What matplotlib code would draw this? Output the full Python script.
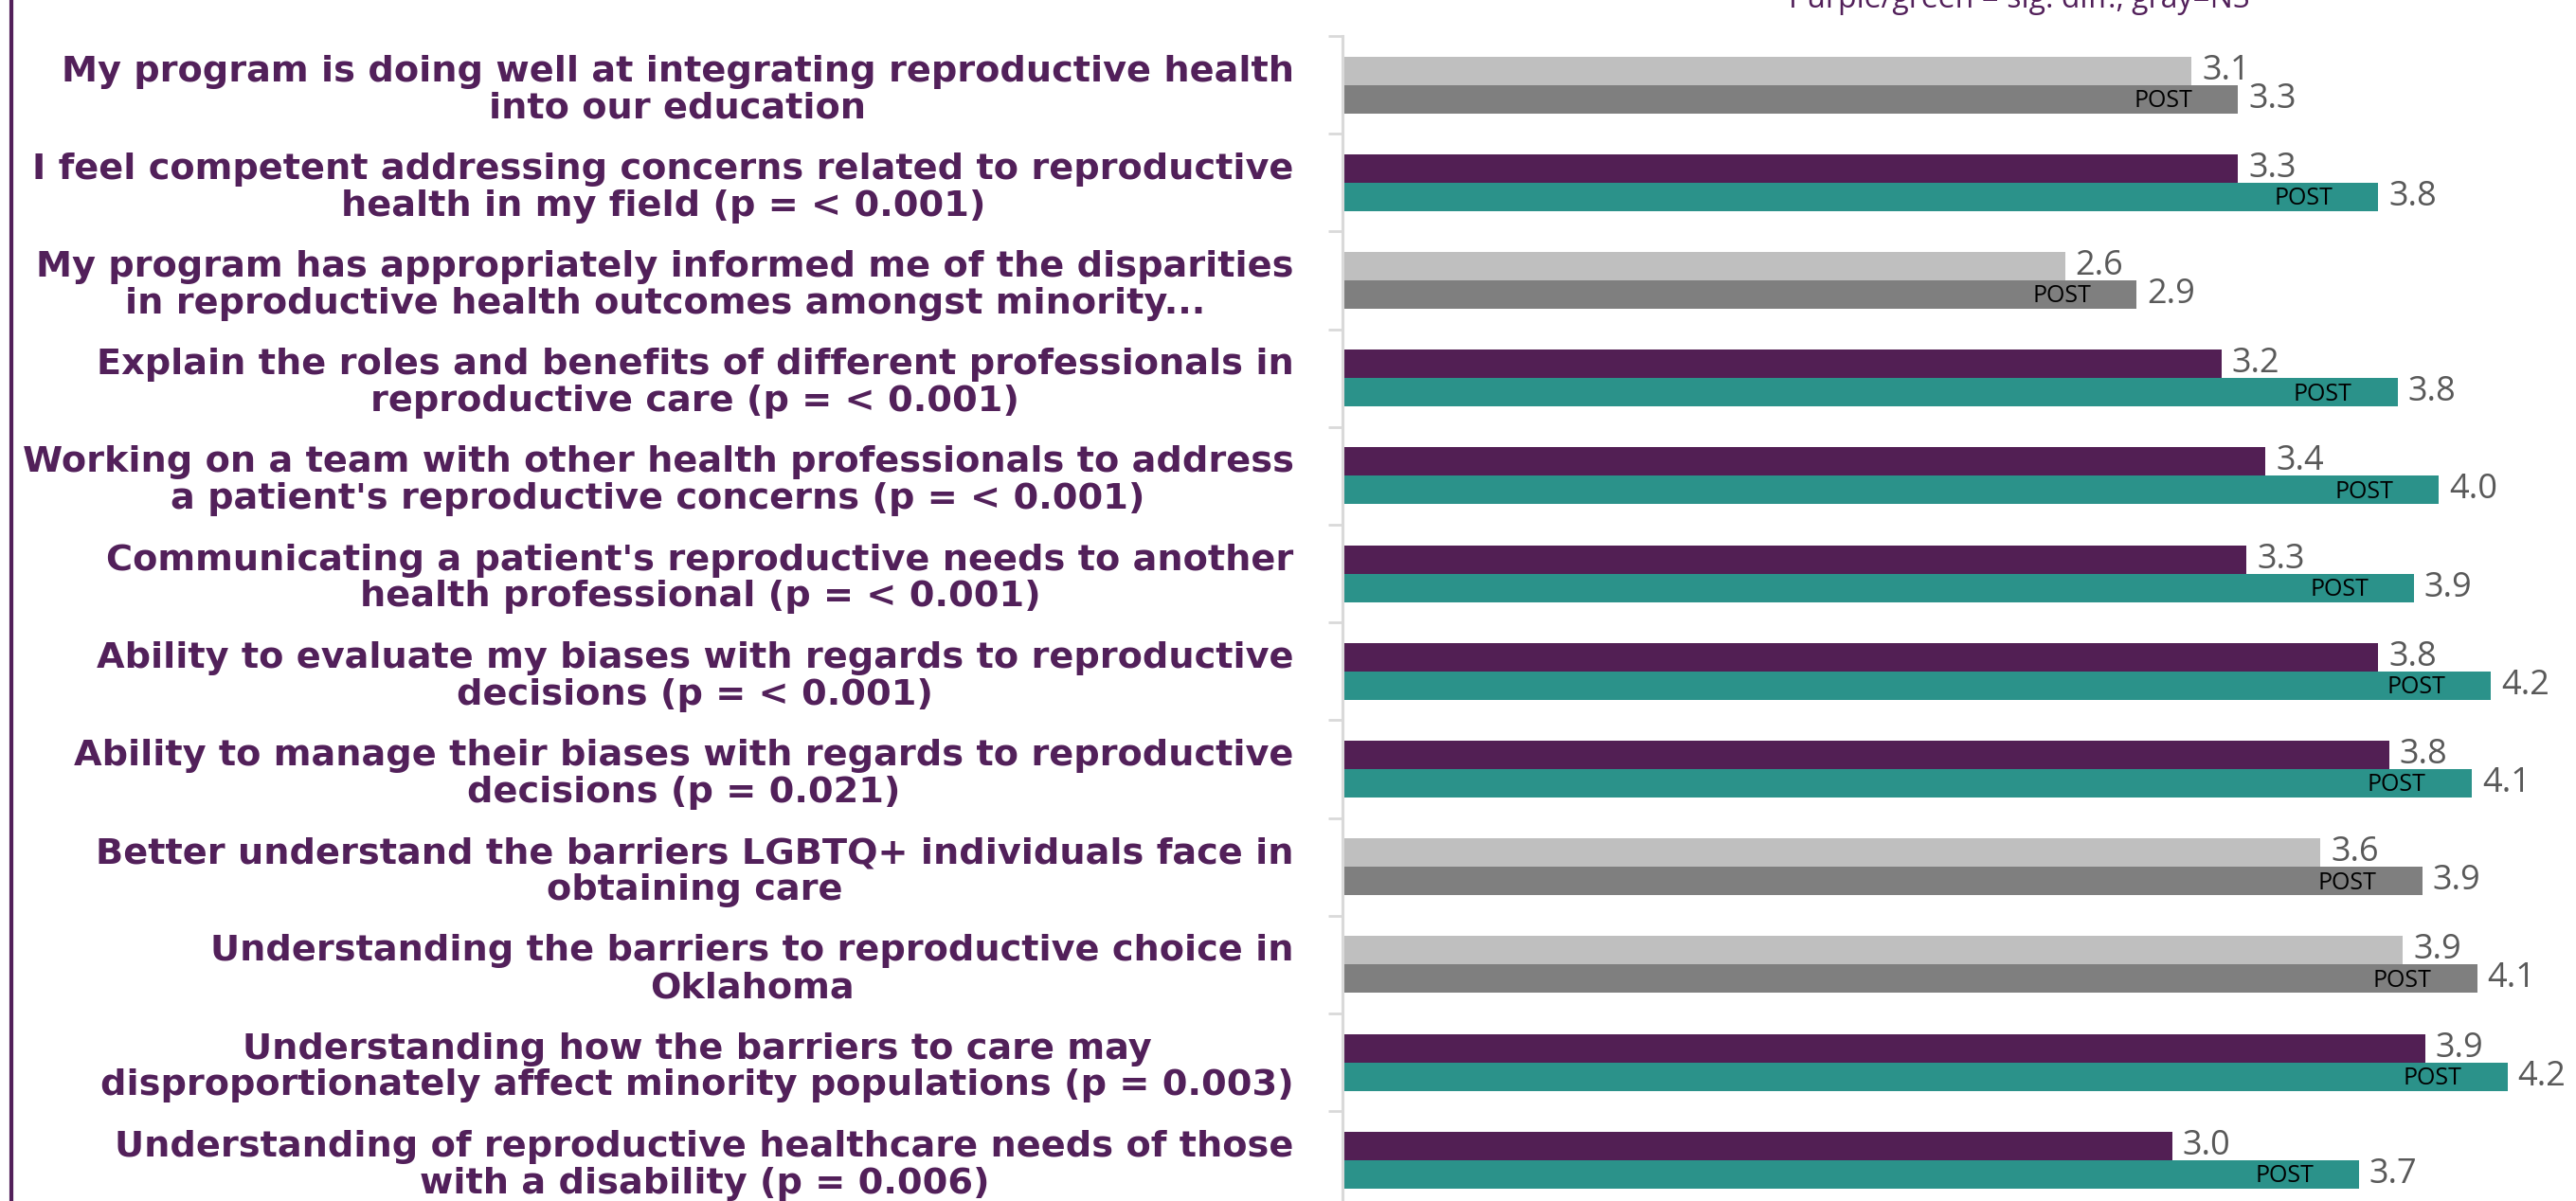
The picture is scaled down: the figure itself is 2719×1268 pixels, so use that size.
import matplotlib
matplotlib.use('Agg')
import matplotlib.pyplot as plt
import numpy as np
from matplotlib.lines import Line2D

questions = [
    "My program is doing well at integrating reproductive health\ninto our education",
    "I feel competent addressing concerns related to reproductive\nhealth in my field (p = < 0.001)",
    "My program has appropriately informed me of the disparities\nin reproductive health outcomes amongst minority...",
    "Explain the roles and benefits of different professionals in\nreproductive care (p = < 0.001)",
    "Working on a team with other health professionals to address\na patient's reproductive concerns (p = < 0.001)",
    "Communicating a patient's reproductive needs to another\nhealth professional (p = < 0.001)",
    "Ability to evaluate my biases with regards to reproductive\ndecisions (p = < 0.001)",
    "Ability to manage their biases with regards to reproductive\ndecisions (p = 0.021)",
    "Better understand the barriers LGBTQ+ individuals face in\nobtaining care",
    "Understanding the barriers to reproductive choice in\nOklahoma",
    "Understanding how the barriers to care may\ndisproportionately affect minority populations (p = 0.003)",
    "Understanding of reproductive healthcare needs of those\nwith a disability (p = 0.006)",
]
pre_scores = [3.09, 3.26, 2.63, 3.20, 3.36, 3.29, 3.77, 3.81, 3.56, 3.86, 3.94, 3.02]
post_scores = [3.26, 3.77, 2.89, 3.84, 3.99, 3.90, 4.18, 4.11, 3.93, 4.13, 4.24, 3.70]
significant = [False, True, False, True, True, True, True, True, False, False, True, True]
post_tag = "POST"
subtitle = "Purple/green = sig. diff., gray=NS"

PURPLE = '#521F54'
TEAL = '#2B928A'
LGRAY = '#BFBFBF'
DGRAY = '#7F7F7F'
TEXT_PURPLE = '#52205A'
VAL_GRAY = '#595959'
AXIS_GRAY = '#D9D9D9'

W, H = 2719, 1268
fig = plt.figure(figsize=(W / 100, H / 100), dpi=100)
top_px = 38
step_px = 103.2
n = len(questions)
ax = fig.add_axes([1417 / W, (H - top_px - n * step_px) / H, 1302 / W, n * step_px / H])

y = np.arange(n)
bh = 0.29
pre_colors = [PURPLE if s else LGRAY for s in significant]
post_colors = [TEAL if s else DGRAY for s in significant]
ax.barh(y - bh / 2, pre_scores, height=bh, color=pre_colors, zorder=1)
ax.barh(y + bh / 2, post_scores, height=bh, color=post_colors, zorder=1)
ax.set_ylim(n - 0.5, -0.5)
ax.set_xlim(0, 4.49)

for yi, v in zip(y, pre_scores):
    ax.annotate(f"{v:.1f}", (v, yi - bh / 2), xytext=(11, 0), textcoords='offset pixels',
                va='center', ha='left', fontsize=26, color=VAL_GRAY, family='Open Sans',
                annotation_clip=False)
for yi, v in zip(y, post_scores):
    ax.annotate(f"{v:.1f}", (v, yi + bh / 2), xytext=(11, 0), textcoords='offset pixels',
                va='center', ha='left', fontsize=26, color=VAL_GRAY, family='Open Sans',
                annotation_clip=False)
    ax.annotate(post_tag, (v, yi + bh / 2), xytext=(-48, -2), textcoords='offset pixels',
                va='center', ha='right', fontsize=18, color='black', family='Open Sans',
                annotation_clip=False)

ax.set_yticks(y)
ax.set_yticklabels(questions)
for lab in ax.get_yticklabels():
    lab.set_fontfamily('DejaVu Sans')
    lab.set_fontweight('bold')
    lab.set_fontsize(27.5)
    lab.set_color(TEXT_PURPLE)
    lab.set_multialignment('center')
    lab.set_linespacing(1.1)
ax.tick_params(axis='y', which='major', length=0, pad=37)
ax.set_yticks(np.arange(-0.5, n, 1), minor=True)
ax.tick_params(axis='y', which='minor', length=10.5, width=2, color=AXIS_GRAY, direction='out')

for side in ['top', 'right', 'bottom']:
    ax.spines[side].set_visible(False)
ax.spines['left'].set_color(AXIS_GRAY)
ax.spines['left'].set_linewidth(2.2)
ax.xaxis.set_visible(False)

fig.text(1888 / W, 1 - 8 / H, subtitle, va='baseline', ha='left', fontsize=23,
         color=TEXT_PURPLE, family='Open Sans')
fig.add_artist(Line2D([12 / W, 12 / W], [0, 1], color=TEXT_PURPLE, lw=3,
                      transform=fig.transFigure))

fig.savefig('out.png', dpi=100)
